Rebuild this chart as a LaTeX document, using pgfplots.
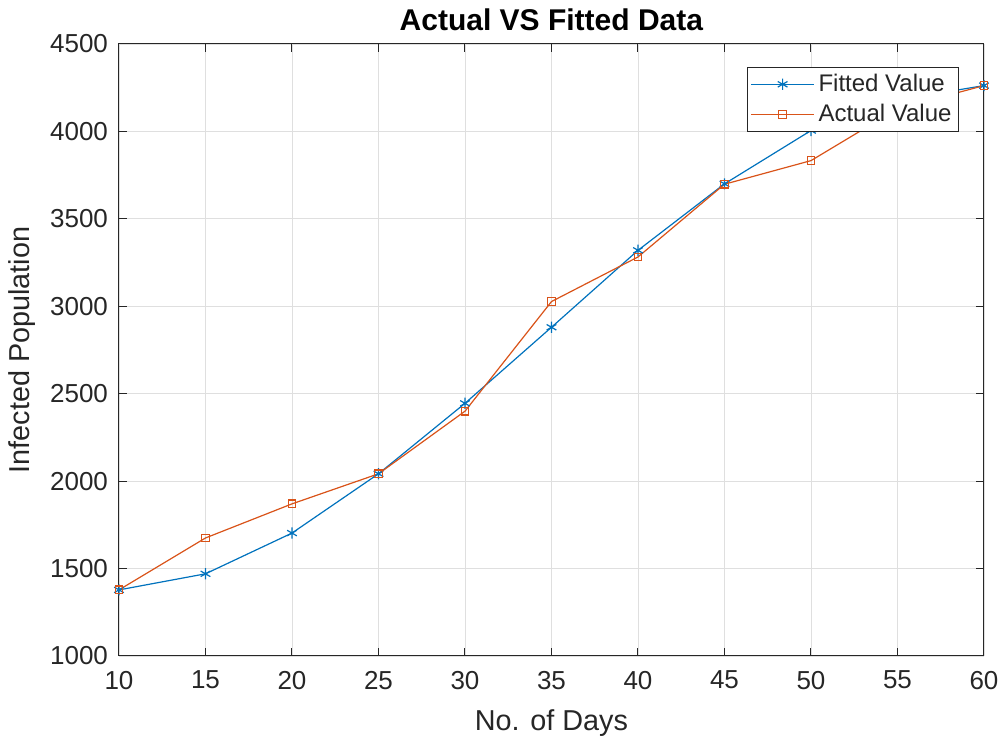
\documentclass[border=0pt]{standalone}
\usepackage{fontspec}
\setmainfont{Liberation Sans}
\usepackage{pgfplots}
\pgfplotsset{compat=1.18}
\definecolor{mblue}{rgb}{0,0.447,0.741}
\definecolor{morange}{rgb}{0.85,0.325,0.098}
\definecolor{axgray}{rgb}{0.15,0.15,0.15}
\begin{document}
\begin{tikzpicture}
\useasboundingbox (-59.5pt,-41pt) rectangle (442pt,328pt);
\begin{axis}[
  scale only axis,
  width=432.5pt, height=306pt,
  at={(0pt,0pt)}, anchor=south west,
  xmin=10, xmax=60, ymin=1000, ymax=4500,
  xtick={10,15,...,60},
  ytick={1000,1500,...,4500},
  /pgf/number format/assume math mode=true,
  /pgf/number format/1000 sep={},
  tick label style={font=\fontsize{13}{15}\selectfont, text=axgray},
  yticklabel style={xshift=-2pt},
  xticklabel style={yshift=-4pt},
  tick align=inside,
  tick pos=both,
  major tick length=4pt,
  axis line style={axgray, line width=0.5pt},
  every tick/.style={axgray, line width=0.5pt},
  grid=major,
  grid style={gray!25, line width=0.4pt},
  title={\textbf{Actual VS Fitted Data}},
  title style={font=\fontsize{15}{17}\selectfont, text=black, at={(rel axis cs:0.5,1)}, anchor=base, yshift=0.5pt},
  xlabel={No. of Days},
  ylabel={Infected Population},
  label style={font=\fontsize{14.4}{16}\selectfont, text=axgray},
  xlabel style={at={(rel axis cs:0.5,0)}, anchor=center, yshift=-33.5pt},
  ylabel style={at={(rel axis cs:0,0.5)}, anchor=center, yshift=48.5pt},
  legend style={at={(rel axis cs:1,1)}, anchor=north east, xshift=-12.5pt, yshift=-11.3pt,
    font=\fontsize{12}{14}\selectfont, draw=axgray, line width=0.5pt, inner sep=1.5pt,
    row sep=1pt, text=axgray},
  legend cell align=left,
  legend image code/.code={\draw[mark repeat=2,mark phase=2] plot coordinates {(0cm,0cm) (0.55cm,0cm) (1.1cm,0cm)};},
]
\addplot[mblue, line width=0.6pt, mark=asterisk, mark size=2.8pt, mark options={line width=0.6pt}] coordinates {
(10,1378) (15,1470) (20,1703) (25,2042) (30,2445) (35,2880) (40,3320) (45,3700) (50,4005) (55,4180) (60,4262)};
\addlegendentry{Fitted Value}
\addplot[morange, line width=0.6pt, mark=square, mark size=1.9pt, mark options={line width=0.6pt}] coordinates {
(10,1378) (15,1675) (20,1870) (25,2042) (30,2400) (35,3027) (40,3282) (45,3698) (50,3833) (55,4130) (60,4262)};
\addlegendentry{Actual Value}
\end{axis}
\end{tikzpicture}
\end{document}
